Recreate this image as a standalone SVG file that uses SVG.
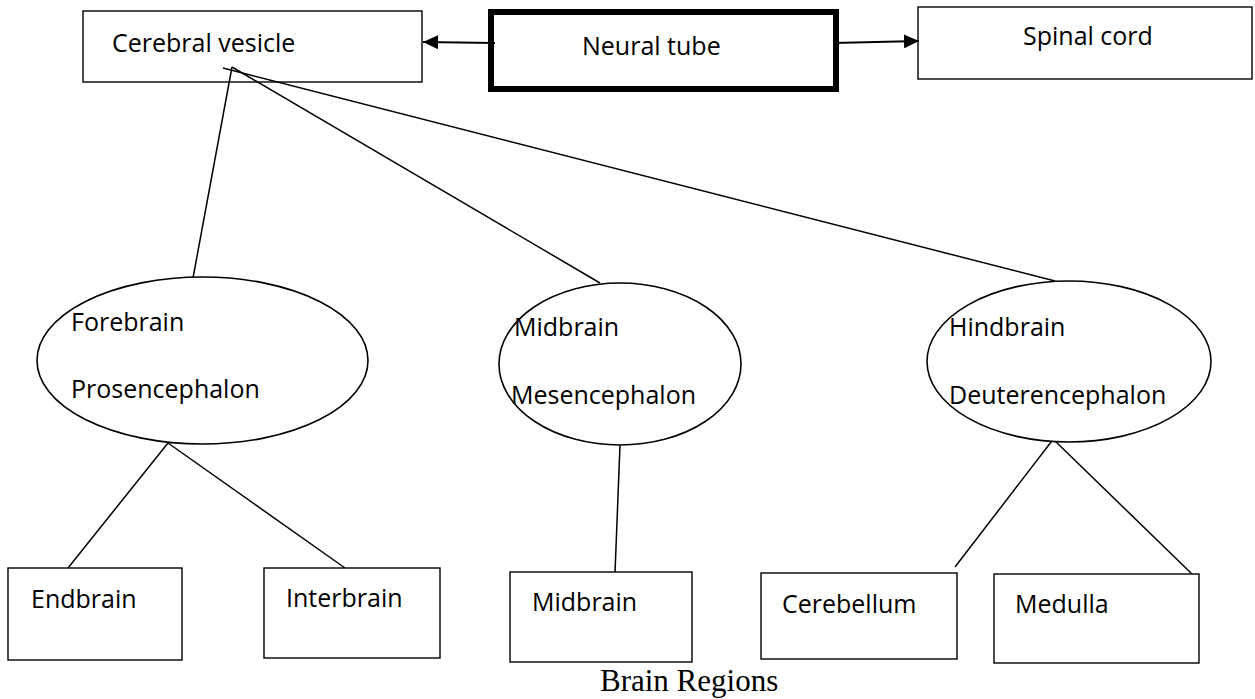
<svg xmlns="http://www.w3.org/2000/svg" width="1255" height="699" viewBox="0 0 1255 699">
<style>
.box{fill:#fff;stroke:#000;stroke-width:1.4}
.thick{fill:#fff;stroke:#000;stroke-width:6}
.ell{fill:#fff;stroke:#000;stroke-width:1.6}
.t{font-family:"Open Sans","Liberation Sans",sans-serif;font-size:25px;fill:#000}
.cap{font-family:"Liberation Serif","Times New Roman",serif;font-size:31px;fill:#000}
.con{stroke:#000;stroke-width:1.5;fill:none}
.arr{stroke:#000;stroke-width:2.2;fill:none}
</style>
<defs>
<marker id="ah" markerUnits="userSpaceOnUse" markerWidth="16" markerHeight="14" refX="15" refY="7" orient="auto">
<path d="M0,0 L15,7 L0,14 Z" fill="#000"/>
</marker>
</defs>
<rect width="1255" height="699" fill="#fff"/>
<g id="cerebral-vesicle"><rect class="box" x="83" y="11" width="339" height="71"/><text class="t" x="112" y="52">Cerebral vesicle</text></g>
<g id="neural-tube"><rect class="thick" x="491" y="12" width="345" height="77"/><text class="t" x="582" y="55">Neural tube</text></g>
<g id="spinal-cord"><rect class="box" x="918" y="7" width="334" height="72"/><text class="t" x="1023" y="45">Spinal cord</text></g>
<g id="connectors">
<line class="arr" x1="495" y1="43" x2="423" y2="42" marker-end="url(#ah)"/>
<line class="arr" x1="833" y1="43" x2="919" y2="41" marker-end="url(#ah)"/>
<line class="con" x1="223" y1="68" x2="1055" y2="281"/>
<line class="con" x1="232" y1="67" x2="600" y2="283"/>
<line class="con" x1="232" y1="67" x2="193" y2="278"/>
<line class="con" x1="168" y1="443" x2="68" y2="568"/>
<line class="con" x1="168" y1="443" x2="345" y2="568"/>
<line class="con" x1="620" y1="445" x2="615" y2="573"/>
<line class="con" x1="1058" y1="433" x2="955" y2="567"/>
<line class="con" x1="1053" y1="439" x2="1192" y2="574"/>
</g>
<g id="forebrain"><ellipse class="ell" cx="202.5" cy="360.5" rx="165.5" ry="83.5"/><text class="t" x="71" y="331">Forebrain</text><text class="t" x="71" y="398">Prosencephalon</text></g>
<g id="midbrain-ellipse"><ellipse class="ell" cx="620" cy="364" rx="121" ry="81"/><text class="t" x="514" y="336">Midbrain</text><text class="t" x="511" y="404">Mesencephalon</text></g>
<g id="hindbrain"><ellipse class="ell" cx="1069" cy="361.5" rx="142" ry="80.5"/><text class="t" x="949" y="336">Hindbrain</text><text class="t" x="949" y="404">Deuterencephalon</text></g>
<g id="endbrain"><rect class="box" x="8" y="568" width="174" height="92"/><text class="t" x="31" y="608">Endbrain</text></g>
<g id="interbrain"><rect class="box" x="264" y="568" width="176" height="90"/><text class="t" x="286" y="607">Interbrain</text></g>
<g id="midbrain-box"><rect class="box" x="510" y="572" width="182" height="90"/><text class="t" x="532" y="611">Midbrain</text></g>
<g id="cerebellum"><rect class="box" x="761" y="573" width="196" height="86"/><text class="t" x="782" y="613">Cerebellum</text></g>
<g id="medulla"><rect class="box" x="994" y="574" width="205" height="89"/><text class="t" x="1015" y="613">Medulla</text></g>
<text class="cap" x="600" y="691">Brain Regions</text>
</svg>
